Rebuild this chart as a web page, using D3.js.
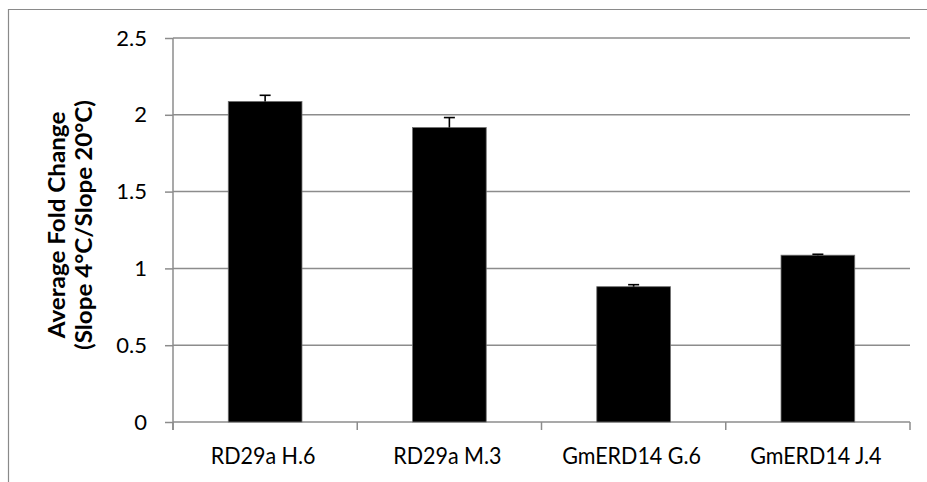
<!DOCTYPE html>
<html>
<head>
<meta charset="utf-8">
<script src="https://cdn.jsdelivr.net/npm/d3@7"></script>
<style>
  html, body { margin: 0; padding: 0; background: #fff; }
  svg { display: block; }
</style>
</head>
<body>
<script>
const categories = ["RD29a H.6", "RD29a M.3", "GmERD14 G.6", "GmERD14 J.4"];
const values = [2.087, 1.917, 0.881, 1.086];
const errors = [0.040, 0.065, 0.013, 0.006];
const yTicks = [0, 0.5, 1, 1.5, 2, 2.5];
const yTitleLines = ["Average Fold Change", "(Slope 4°C/Slope 20°C)"];

const W = 927, H = 482;
const plot = { left: 173, right: 910, top: 38, bottom: 422 };
const font = "Lato, 'Open Sans', sans-serif";

const svg = d3.select("body").append("svg").attr("width", W).attr("height", H);

// outer chart border (cropped)
svg.append("path")
  .attr("d", `M8.5,${H} L8.5,9.5 L${W},9.5`)
  .attr("fill", "none").attr("stroke", "#8a8a8a").attr("stroke-width", 1.2);

const y = d3.scaleLinear().domain([0, 2.5]).range([plot.bottom, plot.top]);
const x = d3.scaleBand().domain(categories).range([plot.left, plot.right])
  .paddingInner(0.6).paddingOuter(0.3);
const xb = d3.scaleBand().domain(categories).range([plot.left, plot.right]);

const gridColor = "#8c8c8c";

// gridlines
svg.append("g").selectAll("line").data(yTicks.filter(d => d > 0)).join("line")
  .attr("x1", plot.left).attr("x2", plot.right)
  .attr("y1", d => y(d)).attr("y2", d => y(d))
  .attr("stroke", gridColor).attr("stroke-width", 1.5);

// y axis
const yAxis = svg.append("g").attr("transform", `translate(${plot.left},0)`)
  .call(d3.axisLeft(y).tickValues(yTicks).tickSize(8).tickPadding(18)
    .tickFormat(d => String(d)));
yAxis.select(".domain").attr("stroke", gridColor).attr("stroke-width", 1.5)
  .attr("d", `M0,${plot.top} V${plot.bottom + 8}`);
yAxis.selectAll(".tick line").attr("stroke", gridColor).attr("stroke-width", 1.5);
yAxis.selectAll(".tick text").attr("font-family", font).attr("font-size", 22)
  .attr("fill", "#000");

// x axis
const xAxis = svg.append("g").attr("transform", `translate(0,${plot.bottom})`)
  .call(d3.axisBottom(xb).tickSize(0).tickPadding(0).tickFormat(""));
xAxis.select(".domain").attr("stroke", gridColor).attr("stroke-width", 1.5)
  .attr("d", `M${plot.left},0 H${plot.right}`);
xAxis.selectAll(".tick").remove();
const bounds = categories.map(c => xb(c)).concat([plot.right]);
xAxis.selectAll("line.sep").data(bounds).join("line").attr("class", "sep")
  .attr("x1", d => d).attr("x2", d => d).attr("y1", 0).attr("y2", 8)
  .attr("stroke", gridColor).attr("stroke-width", 1.5);
xAxis.selectAll("text.cat").data(categories).join("text").attr("class", "cat")
  .attr("transform", d => `translate(${xb(d) + xb.bandwidth() / 2 - 2},42) scale(1,1.08)`)
  .attr("text-anchor", "middle")
  .attr("font-family", font).attr("font-size", 21.5).attr("fill", "#000")
  .text(d => d);

// bars
svg.append("g").selectAll("rect").data(values).join("rect")
  .attr("x", (d, i) => x(categories[i]))
  .attr("width", x.bandwidth())
  .attr("y", d => y(d))
  .attr("height", d => y(0) - y(d))
  .attr("fill", "#000").attr("stroke", "#6f6f6f").attr("stroke-width", 0.8);

// error bars (plus direction)
const eg = svg.append("g").attr("stroke", "#000").attr("stroke-width", 1.6);
values.forEach((v, i) => {
  const cx = x(categories[i]) + x.bandwidth() / 2;
  eg.append("line").attr("x1", cx).attr("x2", cx)
    .attr("y1", y(v)).attr("y2", y(v + errors[i]));
  eg.append("line").attr("x1", cx - 5.5).attr("x2", cx + 5.5)
    .attr("y1", y(v + errors[i])).attr("y2", y(v + errors[i]));
});

// y title
const tcy = 225;
const title = svg.append("text")
  .attr("transform", `translate(0,${tcy}) rotate(-90) scale(1.1,1)`)
  .attr("text-anchor", "middle")
  .attr("font-family", font).attr("font-size", 22).attr("font-weight", "bold")
  .attr("fill", "#000");
yTitleLines.forEach((t, i) => {
  title.append("tspan").attr("x", 0).attr("y", 65 + i * 27).text(t);
});
</script>
</body>
</html>
